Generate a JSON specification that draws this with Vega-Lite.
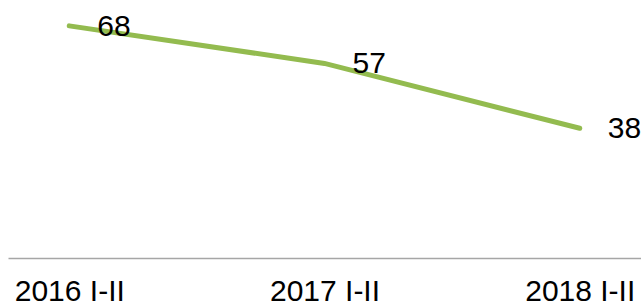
{
  "$schema": "https://vega.github.io/schema/vega-lite/v6.json",
  "width": 633,
  "height": 256,
  "autosize": {"type": "none"},
  "padding": {"left": 8, "top": 2, "right": 0, "bottom": 48},
  "config": {"view": {"stroke": null}, "font": "Liberation Sans"},
  "data": {"values": [
    {"period": "2016 I-II", "value": 68},
    {"period": "2017 I-II", "value": 57},
    {"period": "2018 I-II", "value": 38}
  ]},
  "encoding": {
    "x": {"field": "period", "type": "ordinal", "sort": null,
      "scale": {"type": "point", "padding": 0.24},
      "axis": {"title": null, "labelAngle": 0, "ticks": false, "grid": false,
        "domainColor": "#a6a6a6", "domainWidth": 1.5,
        "labelFont": "Liberation Sans", "labelFontSize": 30, "labelColor": "#000000",
        "labelPadding": 18, "labelBaseline": "top"}},
    "y": {"field": "value", "type": "quantitative",
      "scale": {"domain": [0, 75], "nice": false}, "axis": null}
  },
  "layer": [
    {"mark": {"type": "line", "color": "#93bb4f", "strokeWidth": 5, "strokeCap": "round"}},
    {"mark": {"type": "text", "align": "left", "baseline": "middle", "dx": 28, "dy": 1,
      "font": "Liberation Sans", "fontSize": 30, "color": "#000000"},
     "encoding": {"text": {"field": "value", "type": "quantitative"}}}
  ]
}
